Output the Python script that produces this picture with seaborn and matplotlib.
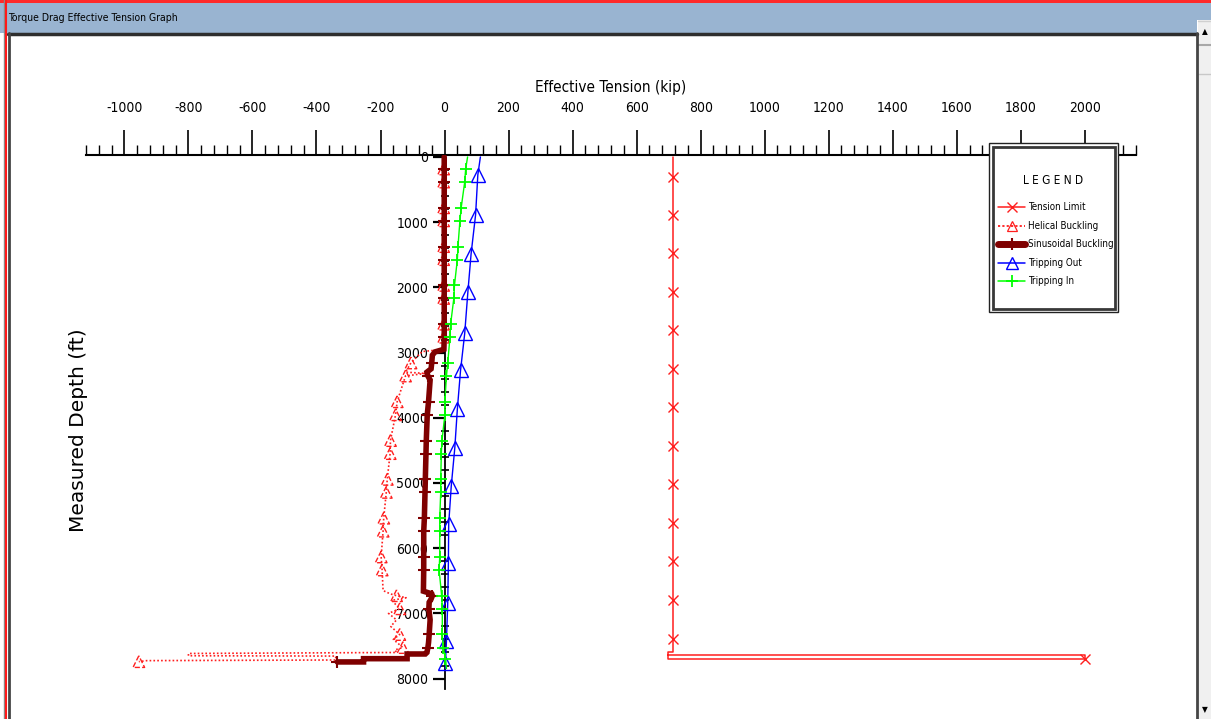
import numpy as np
import matplotlib
matplotlib.use("Agg")
import matplotlib.pyplot as plt
from matplotlib.lines import Line2D
from matplotlib.patches import Rectangle
from matplotlib.ticker import MultipleLocator
import seaborn as sns

# ---------------------------------------------------------------- data
# depths (ft) at which the string report places joint markers
marker_depth = [184, 384, 779, 979, 1374, 1574, 1969, 2169, 2564, 2764,
                3159, 3359, 3754, 3954, 4349, 4549, 4944, 5144, 5539, 5739,
                6134, 6334, 6729, 6929, 7324, 7524]

# Tension limit (kip) vs measured depth (ft)
tension_limit_depth = [0, 300, 890, 1480, 2070, 2660, 3250, 3840, 4430, 5020,
                       5610, 6200, 6800, 7390, 7595, 7595, 7640, 7640, 7705,
                       7705, 7640]
tension_limit_kip = [714, 714, 714, 714, 714, 714, 714, 714, 714, 714,
                     714, 714, 714, 714, 714, 697, 697, 2000, 2000,
                     697, 697]

# Helical buckling load (kip)
helical_depth = [0, 184, 384, 779, 979, 1374, 1574, 1969, 2169, 2564, 2764,
                 2950, 2985, 3159, 3300, 3320, 3359, 3754, 3954, 4349, 4549,
                 4944, 5144, 5539, 5739, 6134, 6334, 6650, 6700, 6729, 6760,
                 6800, 6929, 7000, 7100, 7200, 7324, 7400, 7524, 7560, 7600,
                 7615, 7650, 7655, 7715, 7725, 7740]
helical_kip = [-3, -3, -3, -3, -3, -3, -3, -3, -3, -3, -3,
               -3, -70, -105, -122, -60, -122, -148, -153, -169, -170,
               -179, -182, -190, -192, -198, -195, -192, -170, -150, -120,
               -165, -140, -175, -150, -168, -140, -160, -130, -155, -150,
               -800, -800, -340, -340, -930, -955]

# Sinusoidal buckling load (kip)
sinusoidal_depth = [0, 184, 384, 779, 979, 1374, 1574, 1969, 2169, 2564, 2764,
                    2950, 2990, 3040, 3159, 3250, 3300, 3359, 3420, 3754, 3954,
                    4349, 4549, 4944, 5144, 5539, 5739, 6134, 6334, 6660, 6700,
                    6729, 6780, 6830, 6929, 7100, 7324, 7450, 7524, 7600, 7623,
                    7623, 7695, 7695, 7745, 7745]
sinusoidal_kip = [-1, -1, -1, -1, -1, -1, -1, -1, -1, -1, -1,
                  -2, -30, -38, -40, -42, -55, -52, -45, -50, -54,
                  -57, -58, -60, -61, -63, -65, -65, -65, -66, -40,
                  -38, -42, -48, -49, -45, -48, -50, -52, -55, -60,
                  -117, -117, -253, -253, -335]

# Tripping out effective tension (kip)
trip_out_depth = [0, 275, 887, 1484, 2065, 2707, 3273, 3870, 4466, 5047,
                  5629, 6225, 6837, 7418, 7755, 7846]
trip_out_kip = [112, 104, 97, 83, 73, 63, 50, 40, 32, 21, 13, 12, 10, 6, 3, 3]

# Tripping in effective tension (kip)
trip_in_depth = [0, 184, 384, 779, 979, 1374, 1574, 1969, 2169, 2564, 2764,
                 3159, 3359, 3754, 3954, 4349, 4549, 4944, 5144, 5539, 5739,
                 6134, 6334, 6729, 6929, 7324, 7524, 7700, 7846]
trip_in_kip = [72, 66, 63, 52, 48, 42, 40, 31, 29, 19, 17,
               10, 6, 1, 1, -8, -10, -12, -12, -15, -15,
               -15, -17, -9, -7, -7, -4, 3, 6]

legend_labels = ["Tension Limit", "Helical Buckling", "Sinusoidal Buckling",
                 "Tripping Out", "Tripping In"]

# ---------------------------------------------------------------- style
sns.set_style("white")
NARROW = ["Liberation Sans Narrow", "DejaVu Sans"]
plt.rcParams["font.family"] = NARROW
plt.rcParams["font.stretch"] = "condensed"
plt.rcParams["axes.unicode_minus"] = False

RED = "#ff1e1e"
DARK_RED = "#7f0000"
BLUE = "#0000ff"
GREEN = "#00ff00"

W, H = 1211, 719
fig = plt.figure(figsize=(W / 100, H / 100), dpi=100)
fig.patch.set_facecolor("white")


def fx(x):
    return x / W


def fy(y):
    return 1 - y / H


def frame_rect(x0, y0, x1, y1, **kw):
    fig.add_artist(Rectangle((fx(x0), fy(y1)), (x1 - x0) / W, (y1 - y0) / H,
                             transform=fig.transFigure, **kw))


def frame_line(xs, ys, **kw):
    fig.add_artist(Line2D([fx(v) for v in xs], [fy(v) for v in ys],
                          transform=fig.transFigure, **kw))


# ---------------------------------------------------------------- window frame
frame_rect(0, 2.5, 1197, 33, facecolor="#99b4d1", edgecolor="none", zorder=1)
frame_rect(1197, 2.5, W, 20, facecolor="#99b4d1", edgecolor="none", zorder=1)
frame_rect(0, 0, W, 2.5, facecolor="#ff2a2a", edgecolor="none", zorder=2)
frame_rect(1198, 20, W, H, facecolor="#f0f0f0", edgecolor="none", zorder=1)
frame_line([1198, W], [44.5, 44.5], color="#a8a8a8", lw=1.5, zorder=2)
frame_line([1198, W], [74, 74], color="#c8c8c8", lw=1, zorder=2)
frame_line([1198, W], [21, 21], color="#d0d0d0", lw=1, zorder=2)
fig.text(fx(1204.5), fy(32), "\u25b2", ha="center", va="center", fontsize=6,
         family="DejaVu Sans", color="black")
fig.text(fx(1204.5), fy(710), "\u25bc", ha="center", va="center", fontsize=6,
         family="DejaVu Sans", color="black")
frame_line([8, 1197], [34, 34], color="#2e2e2e", lw=2.5, zorder=2)
frame_line([4, 4], [0, H], color="#8a8a8a", lw=1, zorder=2)
frame_line([6, 6], [0, H], color="#ff1a1a", lw=1.5, zorder=2)
frame_line([8.5, 8.5], [33, H], color="#454545", lw=2, zorder=2)
frame_line([1196.5, 1196.5], [33, H], color="#454545", lw=2, zorder=2)
fig.text(fx(8), fy(18), "Torque Drag Effective Tension Graph", ha="left",
         va="center", fontsize=7.5, color="black")

# ---------------------------------------------------------------- axes
ax = fig.add_axes([fx(86), fy(689), (1136 - 86) / W, (689 - 155) / H])
ax.patch.set_alpha(0)


def mark_index(depths, extra=()):
    d = np.asarray(depths)
    idx = list(np.flatnonzero(np.isin(d, marker_depth)))
    idx += [i for i in extra]
    return sorted(set(idx))


tl_marks = list(range(1, 14)) + [18]
sns.lineplot(x=tension_limit_kip, y=tension_limit_depth, sort=False,
             estimator=None, ax=ax, color=RED, linewidth=1.1, marker="x",
             markevery=tl_marks, markersize=7, markeredgewidth=1,
             markeredgecolor=RED, zorder=3, legend=False)

sns.lineplot(x=helical_kip, y=helical_depth, sort=False, estimator=None,
             ax=ax, color=RED, linewidth=1.2, linestyle=(0, (1.0, 1.3)),
             zorder=3, legend=False)
hel_idx = mark_index(helical_depth, extra=[len(helical_depth) - 1])
sns.scatterplot(x=np.asarray(helical_kip)[hel_idx],
                y=np.asarray(helical_depth)[hel_idx], ax=ax, marker="^",
                s=70, facecolor="none", edgecolor=RED, linewidth=1,
                linestyle="--", zorder=3, legend=False)

sin_idx = mark_index(sinusoidal_depth, extra=[len(sinusoidal_depth) - 1])
sns.lineplot(x=sinusoidal_kip, y=sinusoidal_depth, sort=False, estimator=None,
             ax=ax, color=DARK_RED, linewidth=4, marker="+", markevery=sin_idx,
             markersize=9, markeredgewidth=1.5, markeredgecolor=DARK_RED,
             solid_joinstyle="miter", zorder=4, legend=False)

sns.lineplot(x=trip_out_kip, y=trip_out_depth, sort=False, estimator=None,
             ax=ax, color=BLUE, linewidth=1, marker="^",
             markevery=list(range(1, len(trip_out_depth) - 1)),
             markersize=10, markerfacecolor="none", markeredgecolor=BLUE,
             markeredgewidth=1, zorder=5, legend=False)

sns.lineplot(x=trip_in_kip, y=trip_in_depth, sort=False, estimator=None,
             ax=ax, color=GREEN, linewidth=1, marker="+",
             markevery=list(range(1, len(trip_in_depth) - 1)),
             markersize=9, markeredgewidth=1.3, markeredgecolor=GREEN,
             zorder=5, legend=False)

ax.set_xlim(-1120, 2160)
ax.set_ylim(8160, -30)

for side in ("right", "bottom"):
    ax.spines[side].set_visible(False)
ax.spines["top"].set_visible(True)
ax.spines["top"].set_color("black")
ax.spines["top"].set_linewidth(1.5)
ax.spines["left"].set_visible(True)
ax.spines["left"].set_position(("data", 0))
ax.spines["left"].set_color("black")
ax.spines["left"].set_linewidth(1.3)
ax.spines["left"].set_zorder(2.5)

ax.xaxis.set_major_locator(MultipleLocator(200))
ax.xaxis.set_minor_locator(MultipleLocator(40))
ax.yaxis.set_major_locator(MultipleLocator(1000))
ax.yaxis.set_minor_locator(MultipleLocator(200))

ax.tick_params(axis="x", which="both", top=True, bottom=False, labeltop=True,
               labelbottom=False, direction="out", color="black")
ax.tick_params(axis="x", which="major", length=18, width=1.2, pad=11,
               labelsize=10, labelcolor="black")
ax.tick_params(axis="x", which="minor", length=7, width=1)
ax.tick_params(axis="y", which="both", left=True, right=False,
               labelleft=True, color="black")
ax.tick_params(axis="y", which="major", direction="out", length=8.6,
               width=1.6, pad=3, labelsize=10, labelcolor="black")
ax.tick_params(axis="y", which="minor", direction="inout", length=6, width=1.2)

ax.set_xlabel("Effective Tension (kip)", fontsize=11, color="black")
ax.xaxis.set_label_position("top")
ax.xaxis.set_label_coords(0.5, 1.127)
ax.xaxis.label.set_va("center")
ax.set_ylabel("")
fig.text(fx(78), fy(430), "Measured Depth (ft)", rotation=90, ha="center",
         va="center", fontsize=14.5, family="DejaVu Sans", stretch="normal",
         color="black")

# ---------------------------------------------------------------- legend box
frame_rect(989, 143, 1118, 312, facecolor="white", edgecolor="#222222",
           lw=1, zorder=10)
frame_rect(992.5, 146.5, 1114.5, 308.5, facecolor="none", edgecolor="#383838",
           lw=2, zorder=11)
fig.text(fx(1053), fy(180), "L E G E N D", ha="center", va="center",
         fontsize=8.5, color="black", zorder=12)

legend_styles = [
    dict(color=RED, lw=1.1, marker="x", ms=7, mew=1, mfc="none"),
    dict(color=RED, lw=1.3, ls=(0, (1.2, 1.2)), marker="^", ms=7, mew=0.9,
         mfc="none"),
    dict(color=DARK_RED, lw=5, marker="+", ms=9, mew=1.5),
    dict(color=BLUE, lw=1.1, marker="^", ms=8, mew=1, mfc="none"),
    dict(color=GREEN, lw=1.1, marker="+", ms=9, mew=1.3),
]
row_y = [207, 226, 244, 263, 281]
for label, style, y in zip(legend_labels, legend_styles, row_y):
    frame_line([998, 1011.5, 1025], [y, y, y], markevery=[1], zorder=12,
               **style)
    fig.text(fx(1028), fy(y), label, ha="left", va="center", fontsize=7,
             color="black", zorder=12)

fig.savefig("out.png", dpi=100)
